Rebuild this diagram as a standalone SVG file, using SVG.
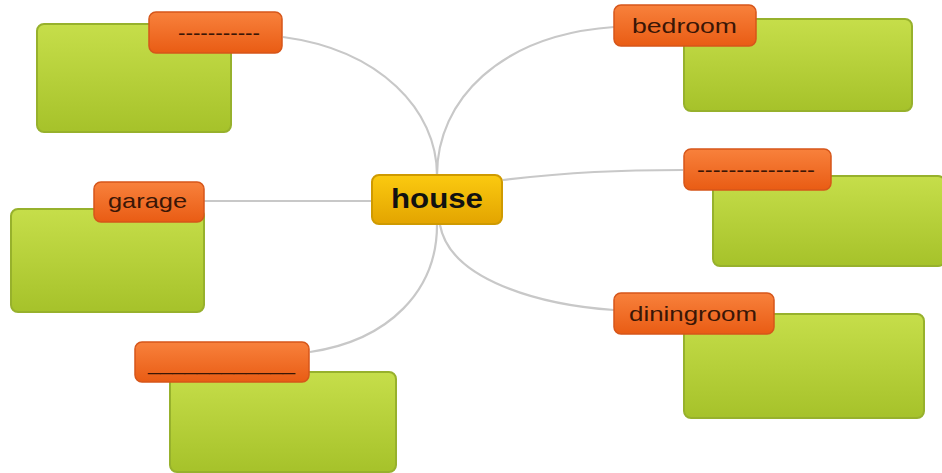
<svg xmlns="http://www.w3.org/2000/svg" width="942" height="473" viewBox="0 0 942 473">
<defs>
<linearGradient id="gGreen" x1="0" y1="0" x2="0" y2="1">
<stop offset="0" stop-color="#c6de4a"/>
<stop offset="1" stop-color="#a6c22a"/>
</linearGradient>
<linearGradient id="gOrange" x1="0" y1="0" x2="0" y2="1">
<stop offset="0" stop-color="#f8813c"/>
<stop offset="1" stop-color="#e95c14"/>
</linearGradient>
<linearGradient id="gGold" x1="0" y1="0" x2="0" y2="1">
<stop offset="0" stop-color="#fbca10"/>
<stop offset="1" stop-color="#e3a400"/>
</linearGradient>
</defs>
<style>
.green{fill:url(#gGreen);stroke:#97b12c;stroke-width:2}
.orange{fill:url(#gOrange);stroke:#d6561a;stroke-width:1.5}
.gold{fill:url(#gGold);stroke:#cf9a00;stroke-width:2}
.lbl{font-family:"Liberation Sans",Arial,sans-serif;font-size:21px;fill:#3a1606}
.hl{font-family:"Liberation Sans",Arial,sans-serif;font-size:27px;font-weight:bold;fill:#111}
.conn{fill:none;stroke:#c8c8c8;stroke-width:2.2}
</style>
<rect width="942" height="473" fill="#fff"/>
<g id="connectors">
<path class="conn" d="M283,37 C380,50 437,110 437,175"/>
<path class="conn" d="M437,175 C437,100 500,35 614,27"/>
<path class="conn" d="M503,180 C570,172 620,170 683,170"/>
<path class="conn" d="M204,201 L371,201"/>
<path class="conn" d="M437,225 C437,290 390,340 310,352"/>
<path class="conn" d="M440,225 C450,280 540,305 614,310"/>
</g>
<g id="house">
<rect class="gold" x="372" y="175" width="130" height="49" rx="7"/>
<text class="hl" x="437" y="208" text-anchor="middle" textLength="92" lengthAdjust="spacingAndGlyphs">house</text>
</g>
<g id="topleft">
<rect class="green" x="37" y="24" width="194" height="108" rx="7"/>
<rect class="orange" x="149" y="12" width="133" height="41" rx="7"/>
<text class="lbl" x="178" y="40" textLength="82" lengthAdjust="spacingAndGlyphs">-----------</text>
</g>
<g id="bedroom">
<rect class="green" x="684" y="19" width="228" height="92" rx="7"/>
<rect class="orange" x="614" y="5" width="142" height="41" rx="7"/>
<text class="lbl" x="632" y="33" textLength="105" lengthAdjust="spacingAndGlyphs">bedroom</text>
</g>
<g id="rightmid">
<rect class="green" x="713" y="176" width="232" height="90" rx="7"/>
<rect class="orange" x="684" y="149" width="147" height="41" rx="7"/>
<text class="lbl" x="697" y="177" textLength="118" lengthAdjust="spacingAndGlyphs">---------------</text>
</g>
<g id="garage">
<rect class="green" x="11" y="209" width="193" height="103" rx="7"/>
<rect class="orange" x="94" y="182" width="110" height="40" rx="7"/>
<text class="lbl" x="108" y="208" textLength="79" lengthAdjust="spacingAndGlyphs">garage</text>
</g>
<g id="bottomleft">
<rect class="green" x="170" y="372" width="226" height="100" rx="7"/>
<rect class="orange" x="135" y="342" width="174" height="40" rx="7"/>
<text class="lbl" x="148" y="370" textLength="147" lengthAdjust="spacingAndGlyphs">____________</text>
</g>
<g id="diningroom">
<rect class="green" x="684" y="314" width="240" height="104" rx="7"/>
<rect class="orange" x="614" y="293" width="160" height="41" rx="7"/>
<text class="lbl" x="629" y="321" textLength="128" lengthAdjust="spacingAndGlyphs">diningroom</text>
</g>
</svg>
